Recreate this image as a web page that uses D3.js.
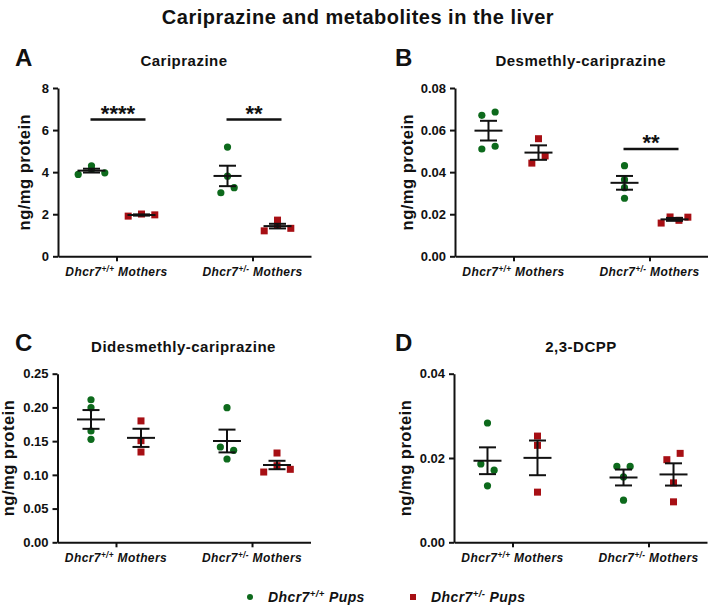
<!DOCTYPE html>
<html><head><meta charset="utf-8">
<script src="https://cdn.jsdelivr.net/npm/d3@7"></script>
<style>
body{margin:0;background:#fff}
svg{display:block}
text{font-family:"Liberation Sans",Arial,Helvetica,sans-serif;font-weight:bold;fill:#111}
</style>
</head><body>
<svg id="chart" width="708" height="606"></svg>
<script>
// ---------------- DATA ----------------
const mainTitle = "Cariprazine and metabolites in the liver";
const motherGroups = ["+/+", "+/-"];          // Dhcr7 genotype of mothers (x categories)
const pupGroups = ["+/+", "+/-"];             // Dhcr7 genotype of pups (series)
const panelLetters = ["A", "B", "C", "D"];
const panelTitles = ["Cariprazine", "Desmethly-cariprazine", "Didesmethly-cariprazine", "2,3-DCPP"];

// values per mother group: [ [mother +/+], [mother +/-] ]
const cariprazineWTPups  = [[3.89, 4.13, 3.97, 4.30], [3.02, 3.26, 3.81, 5.19]];
const cariprazineHetPups = [[1.91, 2.01, 1.97], [1.21, 1.48, 1.33, 1.72]];
const desmethylWTPups    = [[0.0510, 0.0523, 0.0670, 0.0686], [0.0276, 0.0326, 0.0364, 0.0431]];
const desmethylHetPups   = [[0.0443, 0.0477, 0.0559], [0.0158, 0.0187, 0.0171, 0.0186]];
const didesmethylWTPups  = [[0.1527, 0.1650, 0.1996, 0.2114], [0.1235, 0.1413, 0.1364, 0.1996]];
const didesmethylHetPups = [[0.1339, 0.1507, 0.1800], [0.1042, 0.1136, 0.1082, 0.1324]];
const dcppWTPups         = [[0.0134, 0.0186, 0.0171, 0.0283], [0.0100, 0.0155, 0.0180, 0.0180]];
const dcppHetPups        = [[0.0119, 0.0230, 0.0252], [0.0096, 0.0141, 0.0196, 0.0211]];

const ticksA = [0, 2, 4, 6, 8];
const ticksB = [0, 0.02, 0.04, 0.06, 0.08];
const ticksC = [0, 0.05, 0.10, 0.15, 0.20, 0.25];
const ticksD = [0, 0.02, 0.04];

const sigA = [{group: 0, label: "****", level: 6.5}, {group: 1, label: "**", level: 6.5}];
const sigB = [{group: 1, label: "**", level: 0.051}];
const sigC = [];
const sigD = [];

// ---------------- LAYOUT / STYLE ----------------
const colors = ["#0d6a1c", "#a70f14"];
const svg = d3.select("#chart");

svg.append("text").attr("x", 358).attr("y", 24).attr("text-anchor", "middle")
  .style("font-size", "20px").style("letter-spacing", "0.5px").text(mainTitle);

const layout = [
  {left: 58,  top: 88,    bottom: 256.3, letterX: 15,  letterY: 66,  titleX: 184,   titleY: 66,  labelOff: 28},
  {left: 455, top: 88,    bottom: 256.3, letterX: 395, letterY: 66,  titleX: 580.7, titleY: 66,  labelOff: 42},
  {left: 57.5,top: 373.7, bottom: 542.3, letterX: 15,  letterY: 351, titleX: 183.5, titleY: 352, labelOff: 43.5},
  {left: 454, top: 373.7, bottom: 542.3, letterX: 395, letterY: 351, titleX: 581,   titleY: 352, labelOff: 43}
];
const panelData = [
  {wt: cariprazineWTPups, het: cariprazineHetPups, ticks: ticksA, fmt: d3.format("d"),   sig: sigA},
  {wt: desmethylWTPups,   het: desmethylHetPups,   ticks: ticksB, fmt: d3.format(".2f"), sig: sigB},
  {wt: didesmethylWTPups, het: didesmethylHetPups, ticks: ticksC, fmt: d3.format(".2f"), sig: sigC},
  {wt: dcppWTPups,        het: dcppHetPups,        ticks: ticksD, fmt: d3.format(".2f"), sig: sigD}
];

function genoLabel(sel, sup, suffix, size) {
  sel.append("tspan").text("Dhcr7");
  sel.append("tspan").attr("dy", -size * 0.38).style("font-size", (size * 0.68) + "px").text(sup);
  sel.append("tspan").attr("dy", size * 0.38).text(" " + suffix);
}

panelData.forEach((pd, pi) => {
  const L = layout[pi];
  const g = svg.append("g");
  const yMax = d3.max(pd.ticks);
  const y = d3.scaleLinear().domain([0, yMax]).range([L.bottom, L.top]);
  const x = d3.scalePoint().domain(motherGroups).range([L.left, L.left + 253]).padding(0.43);
  const sx = d3.scalePoint().domain(pupGroups).range([-25, 25]);

  // letter & title
  g.append("text").attr("x", L.letterX).attr("y", L.letterY).style("font-size", "24px").text(panelLetters[pi]);
  g.append("text").attr("x", L.titleX).attr("y", L.titleY).attr("text-anchor", "middle")
    .style("font-size", "15px").style("letter-spacing", "0.5px").text(panelTitles[pi]);

  // y axis
  const ya = g.append("g").attr("transform", `translate(${L.left},0)`)
    .call(d3.axisLeft(y).tickValues(pd.ticks).tickFormat(pd.fmt).tickSize(5).tickSizeOuter(0).tickPadding(4));
  ya.select(".domain").attr("stroke", "#111").attr("stroke-width", 2);
  ya.selectAll(".tick line").attr("stroke", "#111").attr("stroke-width", 2);
  ya.selectAll(".tick text").style("font-size", "13px").style("font-family", "'Liberation Sans',Arial,sans-serif").style("font-weight", "bold").attr("fill", "#111");

  // y label
  g.append("text").attr("transform", `translate(${L.left - L.labelOff},${(L.top + L.bottom) / 2}) rotate(-90)`)
    .attr("text-anchor", "middle").style("font-size", "16.5px").style("letter-spacing", "0.5px")
    .text("ng/mg protein");

  // x axis
  const xa = g.append("g").attr("transform", `translate(0,${L.bottom})`)
    .call(d3.axisBottom(x).tickSize(5).tickSizeOuter(0).tickFormat(""));
  xa.select(".domain").attr("stroke", "#111").attr("stroke-width", 2);
  xa.selectAll(".tick line").attr("stroke", "#111").attr("stroke-width", 2);
  motherGroups.forEach(m => {
    const t = g.append("text").attr("x", x(m)).attr("y", L.bottom + 20).attr("text-anchor", "middle")
      .style("font-size", "12px").style("font-style", "italic").style("letter-spacing", "0.4px");
    genoLabel(t, m, "Mothers", 12);
  });

  // points
  [pd.wt, pd.het].forEach((series, si) => {
    series.forEach((vals, mi) => {
      const cx = x(motherGroups[mi]) + sx(pupGroups[si]);
      const py = vals.map(v => y(v));
      const order = d3.range(vals.length).sort((a, b) => vals[a] - vals[b]);
      const rows = [];
      order.forEach(i => {
        const r = rows[rows.length - 1];
        if (r && Math.abs(py[i] - py[r[0]]) <= 7.5) r.push(i); else rows.push([i]);
      });
      const off = new Array(vals.length).fill(0);
      rows.forEach(r => {
        r.sort((a, b) => a - b);
        const n = r.length;
        const sp = n > 1 ? Math.min(13.3, 26.7 / (n - 1)) : 0;
        r.forEach((idx, k) => off[idx] = (k - (n - 1) / 2) * sp);
      });
      vals.forEach((v, i) => {
        if (si === 0) {
          g.append("circle").attr("cx", cx + off[i]).attr("cy", y(v)).attr("r", 3.6).attr("fill", colors[0]);
        } else {
          g.append("rect").attr("x", cx + off[i] - 3.5).attr("y", y(v) - 3.5).attr("width", 7).attr("height", 7).attr("fill", colors[1]);
        }
      });
      // mean & SEM
      const mean = d3.mean(vals);
      const sem = d3.deviation(vals) / Math.sqrt(vals.length);
      const lc = "#111";
      g.append("line").attr("x1", cx - 14).attr("x2", cx + 14).attr("y1", y(mean)).attr("y2", y(mean)).attr("stroke", lc).attr("stroke-width", 2);
      g.append("line").attr("x1", cx).attr("x2", cx).attr("y1", y(mean - sem)).attr("y2", y(mean + sem)).attr("stroke", lc).attr("stroke-width", 2);
      [mean - sem, mean + sem].forEach(e => {
        g.append("line").attr("x1", cx - 8.5).attr("x2", cx + 8.5).attr("y1", y(e)).attr("y2", y(e)).attr("stroke", lc).attr("stroke-width", 2);
      });
    });
  });

  // significance
  pd.sig.forEach(s => {
    const c = x(motherGroups[s.group]) + 1.5;
    g.append("line").attr("x1", c - 27.5).attr("x2", c + 27.5).attr("y1", y(s.level)).attr("y2", y(s.level))
      .attr("stroke", "#111").attr("stroke-width", 2.5);
    g.append("text").attr("x", c).attr("y", y(s.level) + 1).attr("text-anchor", "middle")
      .style("font-size", "22px").text(s.label);
  });
});

// legend
const legendX = [250, 413];
pupGroups.forEach((p, i) => {
  if (i === 0) svg.append("circle").attr("cx", legendX[i]).attr("cy", 597).attr("r", 3).attr("fill", colors[0]);
  else svg.append("rect").attr("x", legendX[i] - 3).attr("y", 594).attr("width", 6).attr("height", 6).attr("fill", colors[1]);
  const t = svg.append("text").attr("x", legendX[i] + 18).attr("y", 602)
    .style("font-size", "14px").style("font-style", "italic").style("letter-spacing", "0.4px");
  genoLabel(t, p, "Pups", 14);
});
</script>
</body></html>
